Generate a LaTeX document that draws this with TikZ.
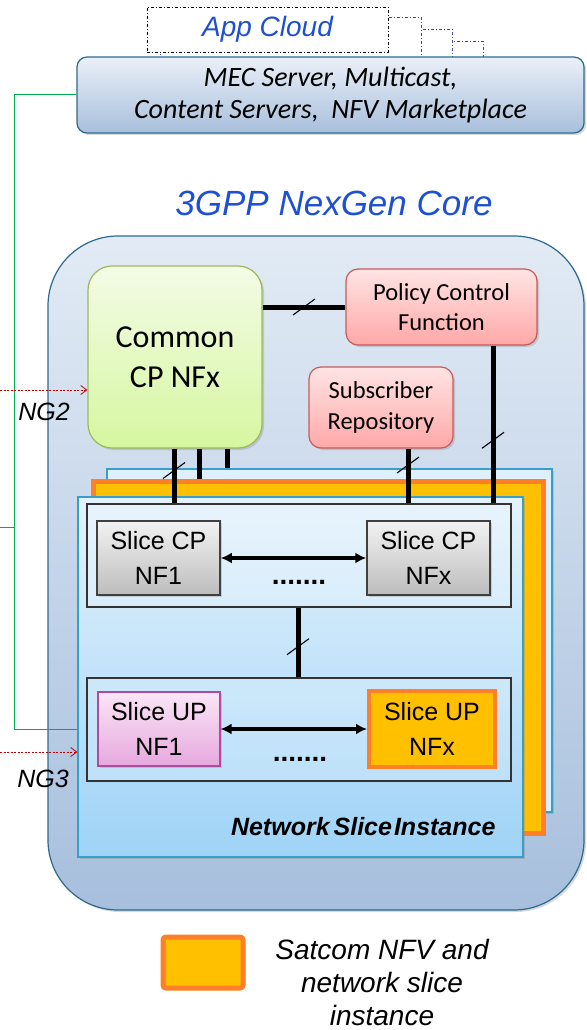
\documentclass[tikz,border=0pt]{standalone}
\usepackage{fontspec}
\setmainfont{Liberation Sans}
\newfontfamily\calib{Carlito}
\usetikzlibrary{arrows.meta,shadows,calc}
\definecolor{appblue}{RGB}{30,80,210}
\definecolor{navydash}{RGB}{60,78,140}
\definecolor{coreedge}{RGB}{46,106,142}
\definecolor{coretop}{RGB}{226,235,245}
\definecolor{corebot}{RGB}{167,191,221}
\definecolor{mectop}{RGB}{234,240,248}
\definecolor{mecbot}{RGB}{168,191,220}
\definecolor{grntop}{RGB}{243,251,230}
\definecolor{grnbot}{RGB}{214,247,160}
\definecolor{grnedge}{RGB}{155,187,89}
\definecolor{redtop}{RGB}{255,228,228}
\definecolor{redbot}{RGB}{255,168,168}
\definecolor{rededge}{RGB}{200,90,90}
\definecolor{slback}{RGB}{221,240,251}
\definecolor{sledge}{RGB}{55,160,200}
\definecolor{sltop}{RGB}{228,242,252}
\definecolor{slbot}{RGB}{159,211,247}
\definecolor{satfill}{RGB}{255,192,0}
\definecolor{satedge}{RGB}{255,127,39}
\definecolor{graytop}{RGB}{242,242,242}
\definecolor{graybot}{RGB}{189,189,189}
\definecolor{pinktop}{RGB}{250,230,246}
\definecolor{pinkbot}{RGB}{230,168,222}
\definecolor{pinkedge}{RGB}{176,74,160}
\definecolor{linkgreen}{RGB}{0,176,80}
\definecolor{ngred}{RGB}{192,0,0}
\begin{document}
\begin{tikzpicture}[x=1pt,y=-1pt,
  shad/.style={drop shadow={opacity=0.3,shadow xshift=2pt,shadow yshift=-2pt}},
  box/.style={draw,inner sep=0pt,align=center},
  conn/.style={line width=5pt},
  slash/.style={line width=1.1pt},
  dbl/.style={line width=3.5pt,{Latex[length=11pt,width=11pt]}-{Latex[length=11pt,width=11pt]}},
  ngarrow/.style={ngred,line width=0.8pt,dash pattern=on 2pt off 1.5pt,-{Straight Barb[length=6pt,width=9pt]}},
  appbox/.style={line width=0.9pt,dash pattern=on 3pt off 2pt on 1pt off 2pt,fill=white},
  nffont/.style={font=\fontsize{25}{35}\selectfont},
  cfont/.style={font=\calib\fontsize{24.5}{30.5}\selectfont}
]
\useasboundingbox (0,0) rectangle (586,1030);

% App cloud stack
\draw[appbox,draw=navydash] (216,41) rectangle (483,64);
\draw[appbox,draw=navydash] (188,29) rectangle (452,64);
\draw[appbox,draw=navydash] (160,17) rectangle (421,64);
\node[appbox,draw=black,minimum width=241pt,minimum height=45pt,inner sep=0pt,
  font=\itshape\fontsize{28}{32}\selectfont,text=appblue] (app) at (267.5,29.5) {App Cloud};

% MEC
\node[box,shad,rounded corners=10pt,top color=mectop,bottom color=mecbot,draw=coreedge,line width=1.2pt,
  minimum width=507pt,minimum height=76pt,font=\calib\itshape\fontsize{28}{32}\selectfont]
  (mec) at (330.5,95) {MEC Server, Multicast,\\Content Servers,\ \ NFV Marketplace};

% title
\node[font=\itshape\fontsize{35}{40}\selectfont,text=appblue] (title) at (334,203) {3GPP NexGen Core};

% core
\node[box,shad,rounded corners=70pt,top color=coretop,bottom color=corebot,draw=coreedge,line width=1.2pt,
  minimum width=536pt,minimum height=674pt] (core) at (316,573) {};

% common CP, policy, subscriber
\node[box,shad,rounded corners=24pt,top color=grntop,bottom color=grnbot,draw=grnedge,line width=1.2pt,
  minimum width=174pt,minimum height=182pt,font=\calib\fontsize{32}{40}\selectfont]
  (common) at (175,357) {Common\\CP NFx};
\node[box,shad,rounded corners=12pt,top color=redtop,bottom color=redbot,draw=rededge,line width=1.2pt,
  minimum width=191pt,minimum height=76pt,cfont] (policy) at (441.5,307) {Policy Control\\Function};
\node[box,shad,rounded corners=12pt,top color=redtop,bottom color=redbot,draw=rededge,line width=1.2pt,
  minimum width=144pt,minimum height=81pt,cfont] (subs) at (381,407.5) {Subscriber\\Repository};

% slice layers
\node[box,shad,fill=slback,draw=sledge,line width=1.2pt,minimum width=445pt,minimum height=343pt] (back) at (329.5,640.5) {};
\node[box,shad,fill=satfill,draw=satedge,line width=5pt,minimum width=450pt,minimum height=352pt] (orange) at (318,657) {};
\node[box,shad,top color=sltop,bottom color=slbot,draw=sledge,line width=1.2pt,minimum width=445pt,minimum height=360pt] (front) at (300.5,677) {};

% groups
\node[box,draw=black!80,line width=1.2pt,fill=white,fill opacity=0.2,minimum width=424pt,minimum height=103pt] (cpgroup) at (299,555.5) {};
\node[box,draw=black!80,line width=1.2pt,fill=white,fill opacity=0.2,minimum width=424pt,minimum height=103pt] (upgroup) at (299,729.5) {};

% NF boxes
\node[box,shad,top color=graytop,bottom color=graybot,draw=black!75,line width=1.5pt,
  minimum width=123pt,minimum height=74pt,nffont] (cp1) at (158.5,558) {Slice CP\\NF1};
\node[box,shad,top color=graytop,bottom color=graybot,draw=black!75,line width=1.5pt,
  minimum width=123pt,minimum height=74pt,nffont] (cpx) at (428.5,558) {Slice CP\\NFx};
\node[box,shad,top color=pinktop,bottom color=pinkbot,draw=pinkedge,line width=1.2pt,
  minimum width=122pt,minimum height=74pt,nffont] (up1) at (159,729) {Slice UP\\NF1};
\node[box,shad,fill=satfill,draw=satedge,line width=4pt,
  minimum width=126pt,minimum height=76pt,nffont] (upx) at (432,729) {Slice UP\\NFx};

\draw[dbl] (cp1.east) -- (cpx.west);
\draw[dbl] (up1.east) -- (upx.west);
\node[anchor=base,font=\bfseries\fontsize{28}{30}\selectfont] (dots1) at (299,584) {.......};
\node[anchor=base,font=\bfseries\fontsize{28}{30}\selectfont] (dots2) at (300,761) {.......};

\node[anchor=east,font=\bfseries\itshape\fontsize{25}{28}\selectfont] (nsi) at (499,827)
  {Network\hspace{4pt}Slice\hspace{2pt}Instance};

% connectors
\draw[conn] (common.east |- policy.west) -- (policy.west) coordinate[midway] (s1);
\draw[slash] (s1) ++(-11,8) -- ++(22,-16);

\coordinate (pA) at ([xshift=51.5pt]policy.south);
\draw[conn] (pA) -- (pA |- cpgroup.north) coordinate[pos=0.6] (s2);
\draw[slash] (s2) ++(-11,8) -- ++(22,-16);

\coordinate (sA) at ([xshift=27pt]subs.south);
\draw[conn] (sA) -- (sA |- cpgroup.north) coordinate[pos=0.3] (s3);
\draw[slash] (s3) ++(-11,8) -- ++(22,-16);

\coordinate (cA) at ([xshift=-1pt]common.south);
\coordinate (cB) at ([xshift=24pt]common.south);
\coordinate (cC) at ([xshift=52pt]common.south);
\draw[conn] (cA) -- (cA |- cpgroup.north) coordinate[pos=0.4] (s4);
\draw[slash] (s4) ++(-11,8) -- ++(22,-16);
\draw[conn] (cB) -- (cB |- orange.north);
\draw[conn] (cC) -- (cC |- back.north);

\coordinate (gA) at ([xshift=-1pt]cpgroup.south);
\draw[conn] (gA) -- (gA |- upgroup.north) coordinate[pos=0.56] (s5);
\draw[slash] (s5) ++(-11,8) -- ++(22,-16);

% green link
\draw[linkgreen,line width=1pt] (mec.west) -- ++(-62,0) coordinate (gk) |- (front.west |- upgroup.west);
\coordinate (gt) at (gk |- 0,527);
\draw[linkgreen,line width=1pt] (gt) -- ++(-15,0);

% NG arrows
\coordinate (ng2s) at (0,390);
\draw[ngarrow] (ng2s) -- (ng2s -| common.west);
\node[font=\itshape\fontsize{25}{28}\selectfont] (ng2) at (44,412) {NG2};
\coordinate (ng3s) at (0,752);
\draw[ngarrow] (ng3s) -- (ng3s -| front.west);
\node[font=\itshape\fontsize{25}{28}\selectfont] (ng3) at (43,779) {NG3};

% legend
\node[box,shad,rounded corners=3pt,fill=satfill,draw=satedge,line width=5pt,minimum width=80pt,minimum height=51pt] (leg) at (203,962.5) {};
\node[align=center,font=\itshape\fontsize{28}{33}\selectfont] (legtxt) at (382,982) {Satcom NFV and\\network slice\\instance};
\end{tikzpicture}
\end{document}
